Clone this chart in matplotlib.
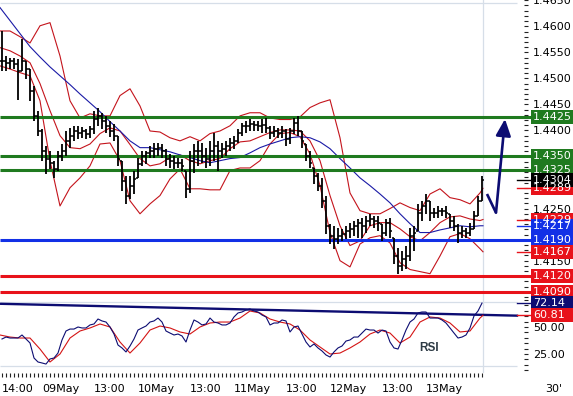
import numpy as np
import matplotlib
matplotlib.use("Agg")
import matplotlib.pyplot as plt
import matplotlib.transforms as mtransforms
from matplotlib.patches import Rectangle
from matplotlib.lines import Line2D
from matplotlib.ticker import FixedLocator, FixedFormatter, MultipleLocator, FormatStrFormatter

plt.rcParams['font.family'] = ['DejaVu Sans']

# ---------------- data (hours relative to 09May 00:00, hourly bars) ----------------
bar_hours = np.arange(-10, 111)
highs = [1.4591, 1.4543, 1.4540, 1.4540, 1.4538, 1.4576, 1.4534, 1.4518, 1.4486, 1.4438,
         1.4403, 1.4371, 1.4361, 1.4342, 1.4361, 1.4374, 1.4399, 1.4405, 1.4409, 1.4409,
         1.4407, 1.4403, 1.4409, 1.4438, 1.4444, 1.4434, 1.4428, 1.4419, 1.4413, 1.4390,
         1.4342, 1.4313, 1.4313, 1.4323, 1.4348, 1.4361, 1.4361, 1.4371, 1.4376, 1.4376,
         1.4374, 1.4365, 1.4355, 1.4351, 1.4348, 1.4346, 1.4323, 1.4361, 1.4374, 1.4380,
         1.4376, 1.4367, 1.4380, 1.4396, 1.4380, 1.4376, 1.4380, 1.4386, 1.4390, 1.4403,
         1.4415, 1.4419, 1.4422, 1.4419, 1.4419, 1.4422, 1.4424, 1.4409, 1.4409, 1.4405,
         1.4409, 1.4403, 1.4405, 1.4424, 1.4428, 1.4399, 1.4374, 1.4361, 1.4328, 1.4319,
         1.4309, 1.4275, 1.4221, 1.4217, 1.4213, 1.4211, 1.4217, 1.4223, 1.4227, 1.4230,
         1.4232, 1.4236, 1.4240, 1.4236, 1.4236, 1.4221, 1.4230, 1.4232, 1.4194, 1.4175,
         1.4169, 1.4179, 1.4213, 1.4217, 1.4259, 1.4265, 1.4278, 1.4265, 1.4252, 1.4255,
         1.4252, 1.4255, 1.4240, 1.4236, 1.4221, 1.4217, 1.4213, 1.4223, 1.4246, 1.4275,
         1.4313]
lows = [1.4515, 1.4515, 1.4518, 1.4518, 1.4459, 1.4515, 1.4499, 1.4457, 1.4419, 1.4390,
        1.4342, 1.4317, 1.4326, 1.4309, 1.4323, 1.4342, 1.4351, 1.4367, 1.4380, 1.4384,
        1.4386, 1.4384, 1.4386, 1.4394, 1.4409, 1.4403, 1.4396, 1.4388, 1.4380, 1.4332,
        1.4284, 1.4259, 1.4269, 1.4278, 1.4309, 1.4332, 1.4336, 1.4348, 1.4348, 1.4351,
        1.4348, 1.4332, 1.4328, 1.4326, 1.4328, 1.4323, 1.4271, 1.4280, 1.4319, 1.4332,
        1.4338, 1.4328, 1.4332, 1.4342, 1.4323, 1.4348, 1.4351, 1.4361, 1.4365, 1.4376,
        1.4390, 1.4396, 1.4399, 1.4399, 1.4399, 1.4396, 1.4396, 1.4384, 1.4388, 1.4386,
        1.4386, 1.4371, 1.4374, 1.4394, 1.4390, 1.4367, 1.4342, 1.4328, 1.4298, 1.4284,
        1.4252, 1.4202, 1.4182, 1.4173, 1.4182, 1.4188, 1.4192, 1.4194, 1.4198, 1.4194,
        1.4194, 1.4204, 1.4217, 1.4213, 1.4207, 1.4188, 1.4198, 1.4194, 1.4144, 1.4125,
        1.4131, 1.4134, 1.4150, 1.4169, 1.4207, 1.4227, 1.4240, 1.4227, 1.4232, 1.4232,
        1.4236, 1.4232, 1.4213, 1.4207, 1.4184, 1.4194, 1.4194, 1.4198, 1.4211, 1.4236,
        1.4265]
closes = [1.4534, 1.4530, 1.4534, 1.4528, 1.4515, 1.4534, 1.4518, 1.4476, 1.4428, 1.4399,
          1.4361, 1.4346, 1.4338, 1.4326, 1.4351, 1.4361, 1.4380, 1.4390, 1.4399, 1.4396,
          1.4399, 1.4394, 1.4403, 1.4422, 1.4428, 1.4419, 1.4409, 1.4399, 1.4390, 1.4346,
          1.4303, 1.4275, 1.4294, 1.4307, 1.4336, 1.4351, 1.4357, 1.4361, 1.4365, 1.4367,
          1.4361, 1.4346, 1.4342, 1.4338, 1.4338, 1.4332, 1.4288, 1.4342, 1.4361, 1.4361,
          1.4351, 1.4346, 1.4361, 1.4371, 1.4361, 1.4365, 1.4371, 1.4376, 1.4380, 1.4396,
          1.4409, 1.4409, 1.4413, 1.4411, 1.4409, 1.4411, 1.4405, 1.4396, 1.4399, 1.4396,
          1.4399, 1.4384, 1.4399, 1.4415, 1.4399, 1.4380, 1.4351, 1.4338, 1.4313, 1.4294,
          1.4265, 1.4217, 1.4198, 1.4192, 1.4198, 1.4202, 1.4207, 1.4211, 1.4217, 1.4223,
          1.4217, 1.4227, 1.4230, 1.4227, 1.4223, 1.4204, 1.4223, 1.4207, 1.4159, 1.4140,
          1.4154, 1.4159, 1.4198, 1.4204, 1.4242, 1.4255, 1.4265, 1.4242, 1.4242, 1.4246,
          1.4246, 1.4242, 1.4227, 1.4217, 1.4204, 1.4207, 1.4204, 1.4211, 1.4236, 1.4265,
          1.4304]

band_hours = np.r_[np.arange(-10.5, 109.6, 2.5), 110.25]
upper_band = [1.4591, 1.4591, 1.4580, 1.4568, 1.4601, 1.4607, 1.4543, 1.4457, 1.4424, 1.4432,
              1.4428, 1.4428, 1.4467, 1.4480, 1.4447, 1.4399, 1.4397, 1.4386, 1.4380, 1.4388,
              1.4380, 1.4394, 1.4399, 1.4409, 1.4428, 1.4434, 1.4434, 1.4424, 1.4421, 1.4421,
              1.4426, 1.4444, 1.4453, 1.4459, 1.4386, 1.4280, 1.4246, 1.4240, 1.4240, 1.4250,
              1.4261, 1.4252, 1.4246, 1.4278, 1.4288, 1.4271, 1.4267, 1.4259, 1.4280, 1.4289]
middle_band = [1.4559, 1.4553, 1.4543, 1.4530, 1.4490, 1.4438, 1.4390, 1.4367, 1.4365, 1.4374,
               1.4394, 1.4405, 1.4399, 1.4373, 1.4346, 1.4332, 1.4336, 1.4348, 1.4353, 1.4342,
               1.4336, 1.4342, 1.4346, 1.4365, 1.4378, 1.4380, 1.4388, 1.4396, 1.4401, 1.4401,
               1.4399, 1.4380, 1.4342, 1.4275, 1.4217, 1.4179, 1.4188, 1.4217, 1.4223, 1.4223,
               1.4211, 1.4196, 1.4188, 1.4204, 1.4223, 1.4234, 1.4236, 1.4230, 1.4227, 1.4229]
lower_band = [1.4524, 1.4518, 1.4511, 1.4505, 1.4457, 1.4342, 1.4255, 1.4290, 1.4309, 1.4332,
              1.4374, 1.4376, 1.4342, 1.4265, 1.4240, 1.4259, 1.4275, 1.4307, 1.4326, 1.4288,
              1.4288, 1.4286, 1.4286, 1.4323, 1.4328, 1.4328, 1.4342, 1.4374, 1.4394, 1.4396,
              1.4388, 1.4355, 1.4294, 1.4204, 1.4150, 1.4138, 1.4182, 1.4194, 1.4198, 1.4184,
              1.4146, 1.4133, 1.4129, 1.4125, 1.4159, 1.4196, 1.4202, 1.4192, 1.4173, 1.4167]
slow_ma = [1.4636, 1.4611, 1.4586, 1.4561, 1.4541, 1.4522, 1.4505, 1.4488, 1.4470, 1.4453,
           1.4436, 1.4417, 1.4399, 1.4380, 1.4367, 1.4367, 1.4363, 1.4359, 1.4353, 1.4348,
           1.4342, 1.4338, 1.4342, 1.4346, 1.4348, 1.4357, 1.4367, 1.4374, 1.4380, 1.4386,
           1.4388, 1.4386, 1.4378, 1.4365, 1.4346, 1.4328, 1.4309, 1.4294, 1.4278, 1.4261,
           1.4240, 1.4221, 1.4204, 1.4204, 1.4209, 1.4213, 1.4217, 1.4215, 1.4217, 1.4217]

rsi_values = [38.9, 40.7, 39.8, 39.8, 39.8, 42.6, 38.9, 35.2, 21.3, 17.6,
              16.7, 15.7, 20.4, 21.3, 25.9, 38.0, 46.3, 48.1, 48.1, 50.0,
              49.1, 49.1, 51.9, 52.8, 57.4, 55.6, 54.6, 50.0, 43.5, 33.3,
              30.6, 26.9, 32.4, 38.9, 47.2, 49.1, 50.9, 54.6, 55.6, 58.3,
              54.6, 46.3, 44.4, 42.6, 43.5, 41.7, 36.1, 47.2, 56.5, 54.6,
              51.9, 52.8, 58.3, 54.6, 53.7, 51.9, 51.9, 53.7, 59.3, 63.0,
              63.9, 65.7, 66.7, 64.8, 63.9, 61.1, 59.3, 51.9, 53.7, 53.7,
              56.5, 55.6, 45.4, 50.0, 50.9, 43.5, 36.1, 31.5, 34.3, 30.6,
              27.8, 24.1, 22.2, 26.9, 30.6, 32.4, 37.0, 38.0, 40.7, 40.7,
              44.4, 48.1, 47.2, 47.2, 44.4, 47.2, 46.3, 36.1, 30.6, 29.6,
              38.0, 47.2, 54.6, 57.4, 63.0, 63.9, 63.9, 58.3, 58.3, 58.3,
              56.5, 53.7, 49.1, 44.4, 39.8, 40.7, 42.6, 49.1, 60.2, 64.8,
              72.14]
rsi_signal = [42.6, 40.7, 39.8, 39.8, 29.6, 17.6, 25.0, 39.8, 46.3, 49.1,
              52.8, 50.0, 36.1, 25.9, 35.2, 47.2, 50.9, 49.1, 45.4, 43.5,
              50.0, 53.7, 54.6, 54.6, 58.3, 64.8, 63.0, 57.4, 54.6, 52.8,
              47.2, 38.0, 31.5, 25.0, 25.9, 30.6, 36.1, 43.5, 47.2, 44.4,
              35.2, 40.7, 54.6, 59.3, 58.3, 53.7, 45.4, 46.3, 58.3, 60.81]
rsi_trend_hours = [-10.5, 118.75]
rsi_trend = [71.5, 60.5]

green_levels = [1.4425, 1.4350, 1.4325]
blue_levels = [1.4190]
red_levels = [1.4120, 1.4090]

arrow_hours = [111.25, 113.5, 115.75]
arrow_prices = [1.4278, 1.4242, 1.4422]

tick_hours = [-10, 0, 13, 24, 37, 48, 61, 72, 85, 96]
tick_labels = ['14:00', '09May', '13:00', '10May', '13:00', '11May',
               '13:00', '12May', '13:00', '13May']
price_axis_labels = [1.4150, 1.4250, 1.4400, 1.4450, 1.4500, 1.4550, 1.4600, 1.4650]
rsi_axis_labels = [25, 50]

GREEN = '#1f7a1f'
RED = '#e8121a'
BLUE = '#1230e6'
NAVY = '#0c0c72'
BAND = '#c4141c'
GRID = '#d6dee8'

price_tags = [(1.4425, '1.4425', GREEN, False), (1.4350, '1.4350', GREEN, False),
              (1.4325, '1.4325', GREEN, False), (1.4289, '1.4289', RED, True),
              (1.4304, '1.4304', '#000000', True), (1.4229, '1.4229', RED, True),
              (1.4217, '1.4217', BLUE, True), (1.4190, '1.4190', BLUE, False),
              (1.4167, '1.4167', RED, True), (1.4120, '1.4120', RED, False),
              (1.4090, '1.4090', RED, False)]
rsi_tags = [(72.14, '72.14', NAVY, True), (60.81, '60.81', RED, True)]

# ---------------- figure ----------------
W, H = 573, 396
fig = plt.figure(figsize=(W / 100, H / 100), dpi=100)
fig.patch.set_facecolor('white')
ax = fig.add_axes([0, (H - 298) / H, 524 / W, 298 / H])
axr = fig.add_axes([0, (H - 373) / H, 524 / W, 75 / H], sharex=ax)

ax.set_xlim(-10.5, 120.5)
ax.set_ylim(1.40783, 1.46505)
axr.set_ylim(7.41, 76.85)

for a in (ax, axr):
    for s in a.spines.values():
        s.set_visible(False)
    a.set_facecolor('none')

# light frame lines
ax.hlines(1.46447, -10.5, 118.75, color=GRID, lw=0.9, zorder=1)
ax.axvline(110.25, color=GRID, lw=0.9, zorder=1)
axr.axvline(110.25, color=GRID, lw=0.9, zorder=1)
axr.hlines([73.1, 13.9], -10.5, 118.75, color=GRID, lw=0.9, zorder=1)

# bands & moving average
ax.plot(band_hours, upper_band, color=BAND, lw=0.8, zorder=2)
ax.plot(band_hours, middle_band, color=BAND, lw=0.8, zorder=2)
ax.plot(band_hours, lower_band, color=BAND, lw=0.8, zorder=2)
ax.plot(band_hours, slow_ma, color='#1a1aa6', lw=0.8, zorder=2)

# level lines
for lv in green_levels:
    ax.hlines(lv, -10.5, 122.25, color=GREEN, lw=2.2, zorder=3, clip_on=False)
for lv in blue_levels:
    ax.hlines(lv, -10.5, 122.25, color=BLUE, lw=2.2, zorder=3, clip_on=False)
for lv in red_levels:
    ax.hlines(lv, -10.5, 122.25, color=RED, lw=2.2, zorder=3, clip_on=False)

# OHLC bars
hi = np.array(highs)
lo = np.array(lows)
cl = np.array(closes)
op = np.clip(np.r_[cl[0], cl[:-1]], lo, hi)
ax.vlines(bar_hours, lo, hi, color='black', lw=1.3, zorder=4)
ax.hlines(op, bar_hours - 0.5, bar_hours, color='black', lw=1.1, zorder=4)
ax.hlines(cl, bar_hours, bar_hours + 0.5, color='black', lw=1.1, zorder=4)

# arrow
ax.plot(arrow_hours[:2], arrow_prices[:2], color=NAVY, lw=1.9, zorder=5,
        solid_capstyle='butt', clip_on=False)
ax.annotate('', xy=(arrow_hours[2], arrow_prices[2]),
            xytext=(arrow_hours[1], arrow_prices[1]),
            arrowprops=dict(arrowstyle='-|>,head_length=1.0,head_width=0.45',
                            color=NAVY, lw=1.9, shrinkA=0, shrinkB=0,
                            mutation_scale=10), zorder=5)

# RSI
rsi_hours = np.arange(len(rsi_values)) + bar_hours[0]
axr.plot(rsi_trend_hours, rsi_trend, color=NAVY, lw=1.7, zorder=2, clip_on=False)
axr.plot(band_hours, rsi_signal, color='#d41414', lw=0.8, zorder=3)
axr.plot(rsi_hours, rsi_values, color=NAVY, lw=0.8, zorder=4)
axr.text(94.25, 31, 'RSI', fontsize=8.5, fontweight='bold', color='#2d3a44',
         family=['Liberation Sans', 'DejaVu Sans'], ha='left', va='center')

# axes ticks
ax.yaxis.tick_right()
ax.yaxis.set_major_locator(FixedLocator(price_axis_labels))
ax.yaxis.set_minor_locator(MultipleLocator(0.001))
ax.yaxis.set_major_formatter(FormatStrFormatter('%.4f'))
ax.tick_params(axis='y', which='both', direction='out', length=2.9, width=0.8,
               color='#222222', labelsize=8, pad=3.6, labelcolor='black')
ax.tick_params(axis='x', which='both', bottom=False, labelbottom=False)

axr.yaxis.tick_right()
axr.yaxis.set_major_locator(FixedLocator(rsi_axis_labels))
axr.yaxis.set_minor_locator(FixedLocator(np.arange(10, 80, 5)))
axr.yaxis.set_major_formatter(FormatStrFormatter('%.2f'))
axr.tick_params(axis='y', which='both', direction='out', length=2.9, width=0.8,
                color='#222222', labelsize=8, pad=3.6)

axr.xaxis.set_major_locator(FixedLocator(tick_hours))
axr.xaxis.set_major_formatter(FixedFormatter(tick_labels))
axr.xaxis.set_minor_locator(FixedLocator(np.arange(-10, 111)))
axr.tick_params(axis='x', which='both', direction='out', length=3.2, width=0.8,
                color='#222222', labelsize=8, pad=5)
for lbl in axr.get_xticklabels():
    lbl.set_ha('left')

# value tags on the right
def add_tags(axis, tags, box_px=14):
    trans = mtransforms.blended_transform_factory(fig.transFigure, axis.transData)
    y0, y1 = axis.get_ylim()
    axis_h_px = axis.get_position().height * H
    h = (y1 - y0) / axis_h_px * box_px
    for val, txt, col, dash in tags:
        if dash:
            fig.add_artist(Line2D([517 / W, 531 / W], [val, val], transform=trans,
                                  color=col, lw=1.0, zorder=5))
        fig.add_artist(Rectangle((531 / W, val - h / 2), (W - 531) / W, h,
                                 transform=trans, facecolor=col, edgecolor='none',
                                 zorder=6))
        fig.text(533 / W, val, txt, transform=trans, color='white', fontsize=8,
                 ha='left', va='center', zorder=7)

add_tags(ax, price_tags)
add_tags(axr, rsi_tags)

fig.text(545 / W, 1 - 389 / H, "30'", fontsize=8, ha='left', va='center')

fig.savefig('out.png', dpi=100, facecolor='white')
